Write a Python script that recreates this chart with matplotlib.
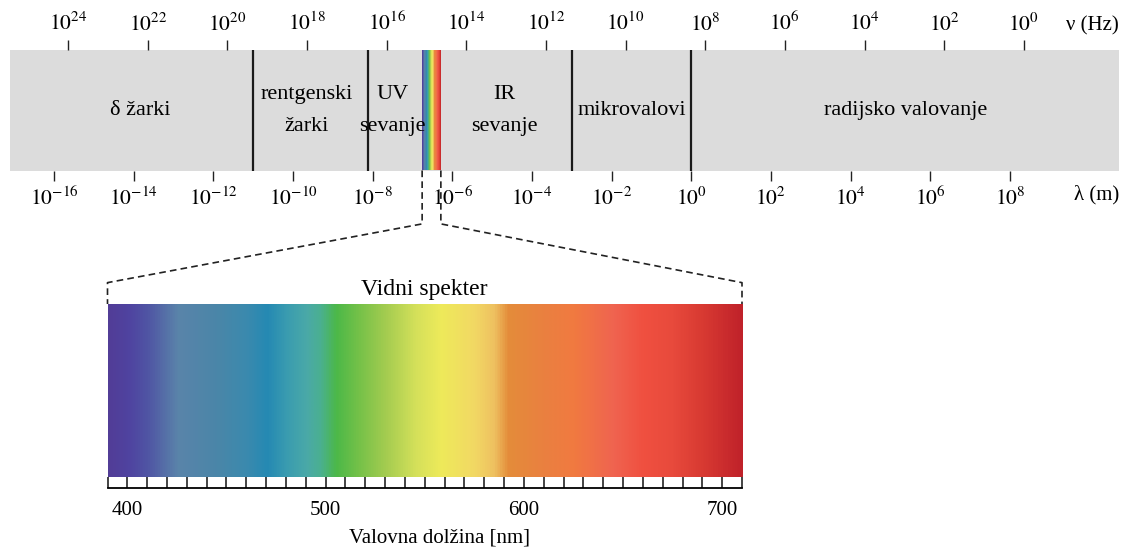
import matplotlib
matplotlib.use("Agg")
import matplotlib.pyplot as plt
import numpy as np
from matplotlib.colors import LinearSegmentedColormap
from matplotlib.lines import Line2D

plt.rcParams['font.family'] = ['Liberation Serif', 'DejaVu Serif']
plt.rcParams['mathtext.fontset'] = 'stix'

# electromagnetic spectrum, x = log10(wavelength / m)
LOG_C = 8.35                       # log10(lambda) + log10(nu) as drawn
lam_exp = list(range(-16, 9, 2))
nu_exp = list(range(0, 25, 2))
x_range = (-17.11, 10.74)
boundaries = [-11.0, -8.13, 0.0, -3.0]
visible_band = (-6.76, -6.29)
band_names = ['δ žarki', 'rentgenski\nžarki', 'UV\nsevanje', 'IR\nsevanje',
              'mikrovalovi', 'radijsko valovanje']
band_label_x = [-13.84, -9.65, -7.50, -4.70, -1.50, 5.37]

# visible spectrum, nm
vis_range = (390, 710)
vis_labels = [400, 500, 600, 700]
vis_minor = list(range(390, 711, 10))
vis_nm = [390, 400, 410, 425, 445, 460, 470, 480, 490, 497, 505, 515, 530,
          545, 558, 575, 585, 592, 610, 625, 645, 660, 675, 690, 710]
vis_colors = ['#523d97', '#4f43a0', '#5056a4', '#5a84aa', '#4a86a8', '#3a8aae',
              '#2589b3', '#3a9cb0', '#4aa9a8', '#4ab090', '#4cb848', '#70c048',
              '#a4cc50', '#d4e05a', '#eeea5a', '#f2d864', '#eec060', '#e48c3a',
              '#ea8040', '#f17a40', '#ef6450', '#f05040', '#e84a3c', '#d83a32',
              '#c0222a']

cmap = LinearSegmentedColormap.from_list(
    'vis', [((n - vis_range[0]) / (vis_range[1] - vis_range[0]), c)
            for n, c in zip(vis_nm, vis_colors)])
grad = np.linspace(0, 1, 512).reshape(1, -1)

W, H = 1126, 548
fig = plt.figure(figsize=(W / 100, H / 100), dpi=100)

# ---- top band
ax = fig.add_axes([10 / W, 1 - 170.5 / H, 1109 / W, 120.5 / H])
ax.set_facecolor('#dcdcdc')
ax.set_xlim(*x_range)
ax.set_ylim(0, 1)
for s in ax.spines.values():
    s.set_visible(False)
ax.set_yticks([])
ax.set_xticks(lam_exp)
ax.set_xticklabels([r'$10^{%d}$' % e for e in lam_exp])
ax.tick_params(axis='x', direction='out', length=7.5, width=1, pad=4.5,
               labelsize=15.5, color='#222222')

ax.imshow(grad, cmap=cmap, aspect='auto', extent=(*visible_band, 0, 1),
          interpolation='bilinear', zorder=2)
for b in boundaries:
    ax.axvline(b, color='#1a1a1a', lw=1.6, zorder=3)
for name, lx in zip(band_names, band_label_x):
    ax.text(lx, 0.5, name, ha='center', va='center', fontsize=16,
            linespacing=1.95, zorder=4)

sec = ax.secondary_xaxis('top', functions=(lambda x: LOG_C - x,
                                           lambda x: LOG_C - x))
sec.set_xticks(nu_exp)
sec.set_xticklabels([r'$10^{%d}$' % e for e in nu_exp])
sec.tick_params(axis='x', direction='out', length=7.5, width=1, pad=3,
                labelsize=15.5, color='#222222')
sec.spines['top'].set_visible(False)

ax.text(1.0, 1.2, 'ν (Hz)', transform=ax.transAxes, ha='right', va='center',
        fontsize=15)
ax.text(1.0, -0.2, 'λ (m)', transform=ax.transAxes, ha='right', va='center',
        fontsize=15)

# ---- visible spectrum
ax2 = fig.add_axes([107.5 / W, 1 - 487.5 / H, 634.5 / W, 183.5 / H])
ax2.set_xlim(*vis_range)
ax2.set_ylim(0, 1)
ruler = 10.8 / 183.5
ax2.imshow(grad, cmap=cmap, aspect='auto',
           extent=(vis_range[0], vis_range[1], ruler, 1),
           interpolation='bilinear')
for side in ['top', 'left', 'right']:
    ax2.spines[side].set_visible(False)
ax2.spines['bottom'].set_linewidth(1.3)
ax2.set_yticks([])
ax2.set_xticks(vis_labels)
ax2.set_xticks(vis_minor, minor=True)
ax2.set_xticklabels([str(v) for v in vis_labels])
ax2.tick_params(axis='x', which='both', direction='in', length=7.8, width=1.1,
                color='#111111')
ax2.tick_params(axis='x', which='major', pad=9.5, labelsize=15)
ax2.set_title('Vidni spekter', fontsize=17, pad=6.5)
ax2.set_xlabel('Valovna dolžina [nm]', fontsize=15, x=0.524, labelpad=6)

# ---- dashed connectors
to_fig = fig.transFigure.inverted()
for xa, xb in [(visible_band[0], vis_range[0]), (visible_band[1], vis_range[1])]:
    pa = to_fig.transform(ax.transData.transform((xa, 0)))
    pb = to_fig.transform(ax2.transData.transform((xb, 1)))
    dy = pa[1] - pb[1]
    xs = [pa[0], pa[0], pb[0], pb[0]]
    ys = [pa[1], pa[1] - 0.40 * dy, pa[1] - 0.84 * dy, pb[1]]
    fig.add_artist(Line2D(xs, ys, transform=fig.transFigure, color='#222222',
                          lw=1.2, ls=(0, (4, 2.5))))

fig.savefig('out.png', dpi=100)
